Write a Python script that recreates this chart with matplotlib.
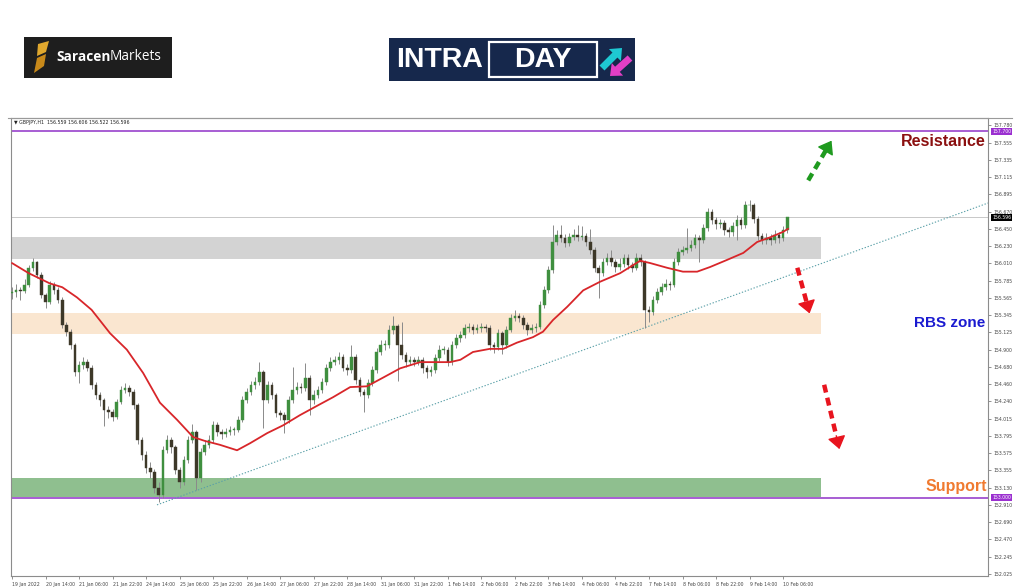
import matplotlib
matplotlib.use('Agg')
import matplotlib.pyplot as plt
from matplotlib.patches import Rectangle, Polygon, FancyArrow
import numpy as np

# ---------------- data (GBPJPY H1 chart, read as 2-hour candles) ----------------
header_text = "\u25BC GBPJPY,H1  156.559 156.606 156.522 156.596"
first_open = 155.62
closes = [155.64, 155.67, 155.65, 155.73, 155.95, 156.02, 155.86, 155.60, 155.51, 155.73,
          155.67, 155.54, 155.22, 155.13, 154.96, 154.61, 154.70, 154.74, 154.67, 154.45,
          154.32, 154.25, 154.13, 154.10, 154.04, 154.23, 154.38, 154.41, 154.36, 154.19,
          153.74, 153.55, 153.38, 153.33, 153.13, 153.04, 153.61, 153.74, 153.65, 153.36,
          153.20, 153.49, 153.74, 153.84, 153.25, 153.59, 153.68, 153.74, 153.93, 153.84,
          153.82, 153.84, 153.87, 153.87, 154.00, 154.25, 154.36, 154.45, 154.49, 154.61,
          154.25, 154.45, 154.32, 154.09, 154.06, 154.00, 154.25, 154.38, 154.42, 154.41,
          154.54, 154.25, 154.32, 154.38, 154.49, 154.67, 154.74, 154.77, 154.81, 154.67,
          154.64, 154.81, 154.51, 154.36, 154.32, 154.47, 154.64, 154.87, 154.96, 154.96,
          155.15, 155.20, 154.96, 154.83, 154.74, 154.77, 154.74, 154.77, 154.67, 154.61,
          154.64, 154.79, 154.90, 154.90, 154.74, 154.96, 155.05, 155.09, 155.18, 155.19,
          155.15, 155.18, 155.19, 155.18, 154.96, 154.93, 155.11, 154.96, 155.15, 155.31,
          155.33, 155.31, 155.22, 155.15, 155.18, 155.19, 155.47, 155.67, 155.92, 156.28,
          156.37, 156.33, 156.27, 156.34, 156.37, 156.34, 156.36, 156.28, 156.18, 155.95,
          155.88, 156.02, 156.08, 156.02, 155.96, 156.00, 156.08, 155.99, 155.95, 156.08,
          156.02, 155.41, 155.38, 155.54, 155.64, 155.70, 155.74, 155.73, 156.02, 156.15,
          156.18, 156.20, 156.24, 156.33, 156.31, 156.46, 156.67, 156.56, 156.51, 156.52,
          156.43, 156.41, 156.49, 156.56, 156.50, 156.75, 156.75, 156.58, 156.36, 156.31,
          156.33, 156.31, 156.37, 156.33, 156.43, 156.596]
highs = [155.70, 155.74, 155.70, 155.80, 155.99, 156.07, 156.04, 155.89, 155.63, 155.78,
         155.77, 155.70, 155.57, 155.26, 155.16, 154.99, 154.76, 154.80, 154.78, 154.70,
         154.49, 154.36, 154.28, 154.18, 154.14, 154.27, 154.43, 154.47, 154.45, 154.39,
         154.22, 153.78, 153.60, 153.46, 153.37, 153.20, 153.66, 153.80, 153.78, 153.68,
         153.40, 153.54, 153.79, 153.95, 153.87, 153.64, 153.74, 153.80, 153.99, 153.97,
         153.88, 153.89, 153.92, 153.91, 154.05, 154.30, 154.41, 154.50, 154.55, 154.74,
         154.64, 154.50, 154.49, 154.35, 154.13, 154.10, 154.30, 154.68, 154.48, 154.47,
         154.73, 154.57, 154.38, 154.43, 154.54, 154.72, 154.80, 154.82, 154.87, 154.84,
         154.71, 154.96, 154.84, 154.55, 154.40, 154.52, 154.69, 154.92, 155.02, 155.03,
         155.21, 155.33, 155.23, 155.25, 154.87, 154.82, 154.80, 154.82, 154.80, 154.70,
         154.69, 154.84, 154.96, 154.95, 154.93, 155.01, 155.10, 155.14, 155.23, 155.24,
         155.23, 155.23, 155.24, 155.23, 155.21, 155.00, 155.16, 155.14, 155.20, 155.36,
         155.41, 155.37, 155.34, 155.25, 155.23, 155.24, 155.52, 155.72, 155.97, 156.50,
         156.44, 156.50, 156.38, 156.40, 156.45, 156.50, 156.48, 156.40, 156.45, 156.22,
         155.99, 156.08, 156.14, 156.18, 156.06, 156.08, 156.13, 156.12, 156.03, 156.14,
         156.13, 156.05, 155.46, 155.59, 155.69, 155.75, 155.80, 155.78, 156.07, 156.20,
         156.23, 156.46, 156.30, 156.38, 156.37, 156.51, 156.72, 156.70, 156.60, 156.58,
         156.56, 156.47, 156.54, 156.62, 156.60, 156.80, 156.82, 156.78, 156.61, 156.40,
         156.39, 156.38, 156.43, 156.41, 156.49, 156.606]
lows = [155.55, 155.58, 155.54, 155.62, 155.70, 155.91, 155.82, 155.56, 155.43, 155.48,
        155.61, 155.50, 155.18, 155.08, 154.91, 154.56, 154.47, 154.65, 154.62, 154.40,
        154.27, 154.18, 153.92, 154.03, 153.99, 154.01, 154.20, 154.34, 154.30, 154.14,
        153.69, 153.48, 153.32, 153.26, 153.06, 152.95, 153.00, 153.57, 153.58, 153.30,
        153.13, 153.17, 153.45, 153.70, 153.10, 153.20, 153.55, 153.64, 153.70, 153.79,
        153.76, 153.78, 153.80, 153.81, 153.84, 153.97, 154.21, 154.32, 154.40, 154.45,
        153.90, 154.21, 154.27, 154.04, 154.00, 153.83, 153.96, 154.21, 154.33, 154.35,
        154.37, 154.06, 154.20, 154.28, 154.34, 154.45, 154.63, 154.70, 154.72, 154.62,
        154.58, 154.60, 154.46, 154.30, 154.10, 154.28, 154.43, 154.60, 154.83, 154.90,
        154.92, 155.10, 154.50, 154.78, 154.68, 154.70, 154.69, 154.70, 154.60, 154.54,
        154.56, 154.60, 154.75, 154.84, 154.69, 154.70, 154.92, 155.00, 155.05, 155.12,
        155.10, 155.11, 155.13, 155.12, 154.90, 154.86, 154.90, 154.85, 154.92, 155.12,
        155.27, 155.25, 155.17, 155.09, 155.11, 155.13, 155.16, 155.43, 155.63, 155.88,
        156.24, 156.28, 156.21, 156.23, 156.30, 156.29, 156.30, 156.23, 156.13, 155.89,
        155.56, 155.84, 155.98, 155.97, 155.90, 155.92, 155.96, 155.93, 155.89, 155.92,
        155.97, 155.18, 155.25, 155.34, 155.50, 155.60, 155.66, 155.66, 155.70, 155.98,
        156.11, 156.14, 156.16, 156.20, 156.02, 156.27, 156.42, 156.51, 156.45, 156.46,
        156.37, 156.35, 156.36, 156.30, 156.45, 156.46, 156.68, 156.53, 156.30, 156.25,
        156.26, 156.24, 156.27, 156.27, 156.29, 156.40]

# moving average (red line), read at candle positions
ma_pos = [0, 4, 9, 12, 15.5, 19, 23.4, 27.4, 31.3, 35.3, 39.4, 43.2, 46, 49.6, 53.7, 56.8,
          60.9, 64.7, 68.7, 72.8, 76.6, 80.7, 84.7, 88.5, 92.6, 97.4, 104.5, 107, 110, 114,
          117.2, 120.5, 124.3, 126.7, 129.1, 132.5, 136.3, 140.3, 145.1, 149.9, 152.3, 156.3,
          160.1, 163.5, 166.6, 170.6, 174.5, 177.8, 180.9, 184, 185.2]
ma_val = [156.01, 155.88, 155.75, 155.70, 155.57, 155.41, 155.11, 154.90, 154.60, 154.22,
          154.00, 153.78, 153.73, 153.68, 153.61, 153.70, 153.83, 153.93, 154.06, 154.18,
          154.29, 154.42, 154.43, 154.54, 154.66, 154.74, 154.74, 154.77, 154.87, 154.91,
          154.91, 154.99, 155.06, 155.13, 155.28, 155.45, 155.66, 155.77, 155.88, 156.04,
          156.01, 155.95, 155.90, 155.90, 155.96, 156.05, 156.14, 156.28, 156.34, 156.41,
          156.45]

x_labels = ['19 Jan 2022', '20 Jan 14:00', '21 Jan 06:00', '21 Jan 22:00', '24 Jan 14:00',
            '25 Jan 06:00', '25 Jan 22:00', '26 Jan 14:00', '27 Jan 06:00', '27 Jan 22:00',
            '28 Jan 14:00', '31 Jan 06:00', '31 Jan 22:00', '1 Feb 14:00', '2 Feb 06:00',
            '2 Feb 22:00', '3 Feb 14:00', '4 Feb 06:00', '4 Feb 22:00', '7 Feb 14:00',
            '8 Feb 06:00', '8 Feb 22:00', '9 Feb 14:00', '10 Feb 06:00']
x_label_step = 8  # candles between labels (16 hours)
y_ticks = [157.780, 157.555, 157.335, 157.115, 156.895, 156.670, 156.450, 156.230, 156.010,
           155.785, 155.565, 155.345, 155.125, 154.900, 154.680, 154.460, 154.240, 154.015,
           153.795, 153.575, 153.355, 153.130, 152.910, 152.690, 152.470, 152.245, 152.025]

resistance = 157.700
support = 153.000
last_price = 156.596
zone_gray = (156.062, 156.345)
zone_rbs = (155.100, 155.370)
zone_green = (153.010, 153.255)
zone_end = 193
trend_start = (34.6, 152.91)
trend_end = (232.9, 156.78)

arrow_up = ((190.0, 157.07), (195.9, 157.61))
arrow_down1 = ((187.4, 155.95), (190.5, 155.33))
arrow_down2 = ((193.8, 154.45), (197.6, 153.59))

# ---------------- figure ----------------
W, H = 1024, 587
fig = plt.figure(figsize=(W / 100, H / 100), dpi=100)
fig.patch.set_facecolor('white')

L, R, T, B = 11, 988, 118, 576
ax = fig.add_axes([L / W, 1 - B / H, (R - L) / W, (B - T) / H])
ax.set_xlim(-0.24, 232.9)
ax.set_ylim(151.998, 157.87)
ax.set_facecolor('white')

# zones
for (lo, hi), col in [(zone_gray, '#d3d3d3'), (zone_rbs, '#fae6d0'), (zone_green, '#8fbf8f')]:
    ax.add_patch(Rectangle((-0.24, lo), zone_end + 0.24, hi - lo, facecolor=col,
                           edgecolor='none', zorder=1))

# horizontal lines
ax.axhline(resistance, color='#a050d0', lw=1.3, zorder=2)
ax.axhline(support, color='#a050d0', lw=1.3, zorder=2)
ax.axhline(last_price, color='#c8c8c8', lw=0.7, zorder=2)

# trend line
ax.plot([trend_start[0], trend_end[0]], [trend_start[1], trend_end[1]],
        color='#5aa0a8', lw=0.8, linestyle=(0, (1.2, 1.6)), zorder=3)

# candles
opens = [first_open] + closes[:-1]
xs = np.arange(len(closes))
o = np.array(opens)
c = np.array(closes)
ax.vlines(xs, lows, highs, color='#8a8a8a', lw=0.7, zorder=4)
bull = c >= o
body_lo = np.minimum(o, c)
body_h = np.maximum(np.abs(c - o), 0.01)
cols = np.where(bull, '#3f8f3f', '#3d3828')
ax.bar(xs, body_h, bottom=body_lo, width=0.62, color=cols, edgecolor=cols,
       linewidth=0.3, zorder=5)

# moving average
ax.plot(ma_pos, ma_val, color='#d8262a', lw=1.3, zorder=6, solid_capstyle='round',
        solid_joinstyle='round')

# dashed arrows
def dashed_arrow(p0, p1, color):
    (x0, y0), (x1, y1) = p0, p1
    f = 0.72
    xm, ym = x0 + (x1 - x0) * f, y0 + (y1 - y0) * f
    ax.plot([x0, xm], [y0, ym], color=color, lw=3.2, linestyle=(0, (1.8, 1.2)), zorder=7)
    ax.annotate('', xy=(x1, y1), xytext=(xm, ym),
                arrowprops=dict(arrowstyle='-|>,head_length=0.55,head_width=0.4',
                                color=color, lw=1.0, mutation_scale=14), zorder=7)

dashed_arrow(*arrow_up, '#1f9a1f')
dashed_arrow(*arrow_down1, '#e8141e')
dashed_arrow(*arrow_down2, '#e8141e')

# axes styling
for s in ['left', 'top', 'bottom', 'right']:
    ax.spines[s].set_color('#8c8c8c')
    ax.spines[s].set_linewidth(0.8)
ax.yaxis.tick_right()
ax.set_yticks(y_ticks)
ax.set_yticklabels(['%.3f' % v for v in y_ticks])
ax.set_xticks([i * x_label_step for i in range(len(x_labels))])
ax.set_xticklabels(x_labels, ha='left')
ax.tick_params(axis='both', direction='out', length=2.5, width=0.5, color='#666666',
               labelsize=3.3, labelcolor='#444444', pad=1.5)

# price boxes on the scale
def price_box(v, fc, fg='white'):
    ax.annotate('%.3f' % v, xy=(1.0, v), xycoords=('axes fraction', 'data'),
                xytext=(3, 0), textcoords='offset points', ha='left', va='center',
                fontsize=3.3, color=fg, annotation_clip=False,
                bbox=dict(boxstyle='square,pad=0.25', fc=fc, ec='none'), zorder=10)

price_box(resistance, '#9b30d0')
price_box(support, '#9b30d0')
price_box(last_price, '#000000')

# ---------------- overlay in pixel coordinates ----------------
ov = fig.add_axes([0, 0, 1, 1], zorder=20)
ov.set_xlim(0, W)
ov.set_ylim(H, 0)
ov.axis('off')
ov.patch.set_alpha(0)

# chart header line + symbol text
ov.plot([8, 1012], [118, 118], color='#9a9a9a', lw=0.8)
ov.text(14, 122.5, header_text, fontsize=3.4, color='#222222', va='center', ha='left')

# zone labels
ov.text(986, 142, 'Resistance', fontsize=11.5, fontweight='bold', color='#8b1010',
        ha='right', va='center', family=['Liberation Sans', 'DejaVu Sans'])
ov.text(985, 323, 'RBS zone', fontsize=11, fontweight='bold', color='#1a1ad0',
        ha='right', va='center', family=['Liberation Sans', 'DejaVu Sans'])
ov.text(987, 487, 'Support', fontsize=11.5, fontweight='bold', color='#f07a30',
        ha='right', va='center', family=['Liberation Sans', 'DejaVu Sans'])

# Saracen Markets logo
ov.add_patch(Rectangle((24, 37), 148, 41, facecolor='#1e1e1e', edgecolor='none'))
ov.add_patch(Polygon([(38, 44), (49, 41), (46, 52), (37, 56)], closed=True,
                     facecolor='#e0a82e', edgecolor='none'))
ov.add_patch(Polygon([(37, 58), (46, 54), (44, 66), (34, 73)], closed=True,
                     facecolor='#c8891a', edgecolor='none'))
ov.text(56, 57, 'Saracen', fontsize=9.8, fontweight='bold', color='white', ha='left',
        va='center', family=['Open Sans', 'DejaVu Sans'])
ov.text(110, 57, 'Markets', fontsize=9.8, color='white', ha='left', va='center',
        family=['Open Sans', 'DejaVu Sans'])

# INTRADAY logo
ov.add_patch(Rectangle((389, 38), 246, 43, facecolor='#16284c', edgecolor='none'))
ov.text(396, 60, 'INTRA', fontsize=20.5, fontweight='bold', color='white', ha='left',
        va='center', family=['Liberation Sans', 'DejaVu Sans'])
ov.add_patch(Rectangle((489, 42), 108, 35, facecolor='none', edgecolor='white', lw=1.6))
ov.text(543, 60, 'DAY', fontsize=20.5, fontweight='bold', color='white', ha='center',
        va='center', family=['Liberation Sans', 'DejaVu Sans'])
ov.add_patch(FancyArrow(602, 68, 20, -20, width=7, head_width=17, head_length=10,
                        length_includes_head=True, facecolor='#1ec8d2', edgecolor='none'))
ov.add_patch(FancyArrow(630, 58, -20, 18, width=7, head_width=17, head_length=10,
                        length_includes_head=True, facecolor='#e23fc6', edgecolor='none'))

fig.savefig('out.png', dpi=100, facecolor='white')
